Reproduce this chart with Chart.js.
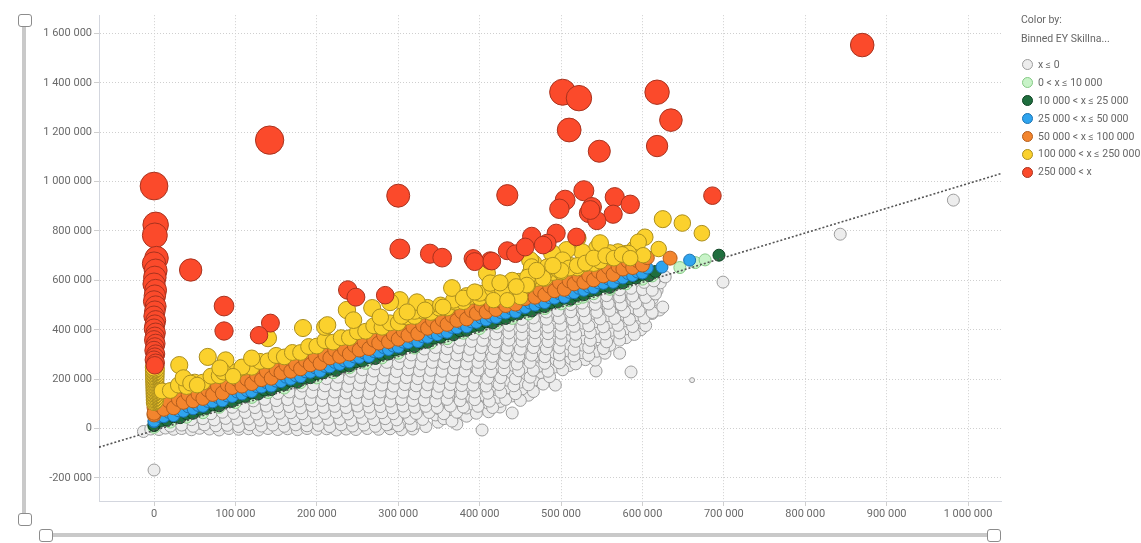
<!DOCTYPE html>
<html><head><meta charset="utf-8">
<script src="https://cdn.jsdelivr.net/npm/chart.js@4/dist/chart.umd.min.js"></script>
<style>
html,body{margin:0;padding:0;background:#fff;width:1141px;height:543px;overflow:hidden;font-family:Roboto,"Open Sans",sans-serif;}
#c{position:absolute;left:0;top:0;}
.trk{position:absolute;background:#c9c9c9;}
.hdl{position:absolute;width:12px;height:11px;border:1px solid #8c8c8c;border-radius:3px;background:#fff;}
#legend{position:absolute;left:1021px;top:11px;font-size:10.5px;color:#666;line-height:18px;}
#legend .t{height:19px;line-height:17px;white-space:nowrap}
#legend .it{height:17.9px;display:flex;align-items:center;white-space:nowrap;}
#legend .dot{width:9px;height:9px;border-radius:50%;border:1px solid #999;margin-left:1px;margin-right:5px;flex:none;}
</style></head><body>
<canvas id="c" width="1141" height="543"></canvas>
<div class="trk" style="left:22px;top:24px;width:4px;height:492px"></div>
<div class="hdl" style="left:18px;top:14px"></div>
<div class="hdl" style="left:18px;top:513px"></div>
<div class="trk" style="left:50px;top:533px;width:940px;height:4px"></div>
<div class="hdl" style="left:39px;top:529px"></div>
<div class="hdl" style="left:987px;top:529px"></div>
<div id="legend"></div>
<script>
// all values in thousands: [x, y]
const xTicks = [0,100,200,300,400,500,600,700,800,900,1000];
const yTicks = [-200,0,200,400,600,800,1000,1200,1400,1600];
const binLabels = ['x ≤ 0','0 < x ≤ 10 000','10 000 < x ≤ 25 000','25 000 < x ≤ 50 000','50 000 < x ≤ 100 000','100 000 < x ≤ 250 000','250 000 < x'];
const trendSlope = 1.0, trendIntercept = -8;

const redPts = [[870,1553],[142,1168],[0,982],[502,1362],[522,1338],[510,1209],[547,1123],[618,1362],[635,1249],[618,1144],[686,943],
[528,963],[505,925],[498,890],[566,937],[585,908],[564,868],[538,897],[534,872],[544,842],[494,791],
[434,945],[300,943],[302,727],[464,778],[434,720],[444,708],[392,688],[413,680],[339,708],[354,692],[483,751],[536,885],[519,776],[456,735],[478,743],[394,676],[415,678],[238,561],[248,532],[284,540],[45,642],[86,496],[86,395],[143,427],[129,378],
[2,825],[1,782],[3,690],[0,668],[2,640],[1,612],[0,585],[2,560],[1,538],[0,515],[2,495],[1,475],[0,455],[2,437],[1,420],[0,404],[2,388],[1,372],[0,358],[2,344],[1,330],[0,316],[2,302],[1,290],[0,278],[2,266],[1,256]];

const yellowPts = [[0,104],[1,108],[2,112],[0,116],[1,120],[2,124],[0,128],[1,132],[2,136],[0,140],[1,144],[2,148],[0,152],[1,156],[2,160],[0,164],[1,168],[2,172],[0,176],[1,180],[2,184],[0,188],[1,192],[2,196],[0,200],[1,204],[2,208],[0,212],[1,216],[2,220],[0,224],[1,228],[2,232],[0,236],[1,240],[2,244],[0,248],
[10,152],[20,154],[30,176],[40,170],[50,188],[60,188],[70,212],[80,214],[90,236],[100,230],[110,248],[120,248],[130,272],[140,274],[150,296],[160,290],[170,308],[180,308],[190,332],[200,334],[210,356],[220,350],[230,368],[240,368],[250,392],[260,394],[270,416],[280,410],[290,428],[300,428],[310,452],[320,454],[330,476],[340,470],[350,488],[360,488],[370,512],[380,514],[390,536],[400,530],[410,548],[420,548],[430,572],[440,574],[450,596],[460,590],[470,608],[480,608],[490,632],[500,634],[510,656],[520,650],[530,668],[540,668],[550,692],[560,694],[570,716],[580,710],[590,728],
[304,455],[320,475],[336,490],[352,500],[368,520],[384,538],[400,548],[416,565],[432,585],[448,596],[464,612],[480,630],[496,645],[512,660],[528,680],[544,690],[560,712],
[31,257],[36,205],[66,290],[88,277],[85,229],[108,249],[120,285],[140,366],[183,407],[210,411],[45,184],[53,176],[97,212],[81,245],[366,569],[380,528],[409,629],[413,589],[394,553],[428,561],[417,520],[302,520],[323,512],[290,512],[268,488],[237,480],[213,419],[333,480],[355,492],[311,472],[466,670],[462,629],[459,581],[450,532],[434,520],[245,439],[278,451],[625,848],[649,832],[673,791],[603,775],[595,755],[583,710],[601,702],[620,727],[520,771],[544,731],[548,751],[526,715],[507,723],[489,710],[462,682],[464,654],[483,654],[502,682],[459,613],[548,678],[458,581],[478,609],
[510,650],[520,660],[530,670],[540,690],[555,700],[565,690],[575,705],[585,690],[500,640],[490,660],[470,640],[440,600],[445,575],[425,590]];

const orangePts = [[0,55],[1,65],[2,75],[0,85],[1,95],
[0,62],[6,96],[12,78],[18,112],[24,84],[30,118],[36,106],[42,138],[48,112],[54,140],[60,122],[66,156],[72,138],[78,172],[84,144],[90,178],[96,166],[102,198],[108,172],[114,200],
[120,182],[126,216],[132,198],[138,232],[144,204],[150,238],[156,226],[162,258],[168,232],[174,260],[180,242],[186,276],[192,258],[198,292],[204,264],[210,298],[216,286],[222,318],[228,292],[234,320],
[240,302],[246,336],[252,318],[258,352],[264,324],[270,358],[276,346],[282,378],[288,352],[294,380],[300,362],[306,396],[312,378],[318,412],[324,384],[330,418],[336,406],[342,438],[348,412],[354,440],
[360,422],[366,456],[372,438],[378,472],[384,444],[390,478],[396,466],[402,498],[408,472],[414,500],[420,482],[426,516],[432,498],[438,532],[444,504],[450,538],[456,526],[462,558],[468,532],[474,560],
[480,542],[486,576],[492,558],[498,592],[504,564],[510,598],[516,586],[522,618],[528,592],[534,620],[540,602],[546,636],[552,618],[558,652],[564,624],[570,658],[576,646],[582,678],[588,652],[594,680],[600,662],[606,692],[634,690]];

const bluePts = [[0,28],[1,36],[2,44],
[0,30],[6,50],[12,48],[18,66],[24,52],[30,72],[36,70],[42,88],[48,80],[54,94],[60,90],[66,110],[72,108],[78,126],[84,112],[90,132],[96,130],[102,148],[108,140],[114,154],
[120,150],[126,170],[132,168],[138,186],[144,172],[150,192],[156,190],[162,208],[168,200],[174,214],[180,210],[186,230],[192,228],[198,246],[204,232],[210,252],[216,250],[222,268],[228,260],[234,274],
[240,270],[246,290],[252,288],[258,306],[264,292],[270,312],[276,310],[282,328],[288,320],[294,334],[300,330],[306,350],[312,348],[318,366],[324,352],[330,372],[336,370],[342,388],[348,380],[354,394],
[360,390],[366,410],[372,408],[378,426],[384,412],[390,432],[396,430],[402,448],[408,440],[414,454],[420,450],[426,470],[432,468],[438,486],[444,472],[450,492],[456,490],[462,508],[468,500],[474,514],
[480,510],[486,530],[492,528],[498,546],[504,532],[510,552],[516,550],[522,568],[528,560],[534,574],[540,570],[546,590],[552,588],[558,606],[564,592],[570,612],[576,610],[582,628],[588,620],[594,634],[600,630],[606,650],[624,654],[658,682]];

const darkGreenPts = [[0,12],[1,20],
[0,14],[8,30],[16,34],[24,48],[32,44],[40,60],[48,62],[56,78],[64,82],[72,96],[80,92],[88,108],[96,110],[104,126],[112,130],[120,144],[128,140],[136,156],[144,158],[152,174],[160,178],[168,192],[176,188],[184,204],[192,206],[200,222],[208,226],[216,240],[224,236],[232,252],[240,254],[248,270],[256,274],[264,288],[272,284],[280,300],[288,302],[296,318],[304,322],[312,336],[320,332],[328,348],[336,350],[344,366],[352,370],[360,384],[368,380],[376,396],[384,398],[392,414],[400,418],[408,432],[416,428],[424,444],[432,446],[440,462],[448,466],[456,480],[464,476],[472,492],[480,494],[488,510],[496,514],[504,528],[512,524],[520,540],[528,542],[536,558],[544,562],[552,576],[560,572],[568,588],[576,590],[584,606],[592,610],[591,621],[600,624],[608,620],[616,636],[694,702]];

const lightGreenPts = [[0,5],[20,26],[40,46],[60,64],[80,86],[100,105],[120,126],[140,146],[160,164],[180,186],[200,205],[220,226],[240,246],[260,264],[280,286],[300,305],[320,326],[340,346],[360,364],[380,386],[400,405],[420,426],[440,446],[460,464],[480,486],[500,505],[510,518],[520,526],[527,532],[540,546],[560,564],[580,586],[600,605],[612,618],[646,652],[665,672],[677,683]];

const whitePts = [[0,-168],[699,593],[843,787],[982,925],
[-13,-12],[-4,-2],[6,-4],[14,2],[24,-3],[34,0],[46,-5],[56,1],[68,-2],[80,-6],[92,0],[104,-3],[116,-1],[128,-6],[140,0],[152,-4],[164,-1],[176,-5],[188,0],[200,-3],[212,-1],[224,-6],[236,-2],[248,-4],[262,0],[276,-3],[290,-1],[304,-5],[318,-2],[403,-6],
[32,22],[44,28],[58,20],[70,26],[84,24],[96,30],[110,21],[122,27],[136,23],[150,29],[162,20],[176,26],[190,22],[204,28],[218,24],[232,30],[246,21],[260,27],[274,23],[290,19],[306,26],[322,21],[349,26],[372,18],
[58,48],[72,54],[86,46],[100,52],[114,49],[128,55],[142,47],[156,53],[170,50],[184,56],[198,46],[212,52],[226,48],[240,55],[254,47],[268,53],[282,50],[296,45],[312,52],[328,48],[346,55],[384,50],
[82,72],[96,78],[110,74],[124,80],[138,71],[152,77],[166,73],[180,79],[194,75],[208,81],[222,72],[236,78],[250,74],[264,80],[278,71],[292,77],[306,73],[320,79],[336,72],[350,80],[364,74],[384,83],[425,87],[440,63],[411,68],
[108,98],[122,104],[136,100],[150,106],[164,97],[178,103],[192,99],[206,105],[220,101],[234,107],[248,98],[262,104],[276,100],[290,106],[304,97],[318,103],[332,99],[348,105],[362,100],[376,107],[392,98],[410,104],[425,110],
[138,128],[152,134],[166,126],[180,132],[194,129],[208,135],[222,127],[236,133],[250,130],[264,136],[278,126],[292,132],[306,128],[320,135],[334,127],[348,133],[362,129],[376,136],[390,128],[406,134],[422,126],[440,132],[460,135],
[166,158],[180,164],[194,156],[208,162],[222,159],[236,165],[250,157],[264,163],[278,160],[292,166],[306,156],[320,162],[334,158],[348,165],[362,157],[376,163],[390,159],[404,166],[418,158],[434,164],[452,160],[493,176],
[196,188],[210,194],[224,186],[238,192],[252,189],[266,195],[280,187],[294,193],[308,190],[322,196],[336,186],[350,192],[364,188],[378,195],[392,187],[406,193],[420,189],[434,196],[450,188],[466,194],
[226,218],[240,224],[254,216],[268,222],[282,219],[296,225],[310,217],[324,223],[338,220],[352,226],[366,216],[380,222],[394,218],[408,225],[424,217],[440,223],[458,219],[476,226],[543,233],[586,229],
[256,248],[270,254],[284,246],[298,252],[312,249],[326,255],[340,247],[354,253],[368,250],[382,256],[396,246],[410,252],[426,248],[442,255],[458,247],[474,253],[492,249],[510,255],
[286,278],[300,284],[314,276],[328,282],[342,279],[356,285],[370,277],[384,283],[398,280],[412,286],[428,276],[444,282],[460,278],[476,285],[494,277],[512,283],[530,279],[466,290],[542,277],
[316,308],[330,314],[344,306],[358,312],[372,309],[386,315],[400,307],[414,313],[428,310],[444,316],[460,306],[476,312],[492,308],[508,315],[526,307],[544,313],[554,305],[572,305],
[346,338],[360,344],[374,336],[388,342],[402,339],[416,345],[430,337],[446,343],[462,340],[478,346],[494,336],[510,342],[526,338],[536,338],[560,337],
[376,368],[390,374],[404,366],[418,372],[432,369],[448,375],[464,367],[480,373],[496,370],[512,376],[528,366],[546,372],[566,378],[580,368],
[406,398],[420,404],[434,396],[448,402],[462,399],[478,405],[494,397],[510,403],[526,400],[544,406],[562,398],[580,404],[598,400],
[436,428],[450,434],[464,426],[478,432],[494,429],[510,435],[526,427],[542,433],[560,430],[578,436],[596,428],
[466,458],[480,464],[494,456],[510,462],[526,459],[542,465],[558,457],[576,463],[594,460],[612,466],
[496,488],[510,494],[526,486],[542,492],[558,489],[574,495],[590,487],[604,492],[621,480],[625,492],
[526,518],[540,524],[556,516],[572,522],[588,519],[600,540],[612,525],
[556,548],[570,554],[586,546],[600,552],[612,573],[618,560],
[586,578],[598,584],[610,576],[618,601],[622,590],
[616,608],[628,614],
[20,10],[34,14],[48,9],[62,15],[76,11],[90,13],[104,8],[118,15],[132,10],[146,14],[160,9],[174,15],[188,11],[202,13],[216,8],[230,15],[244,10],[258,14],[272,9],[286,15],[300,11],[316,12],[334,8],
[46,36],[60,40],[74,35],[88,41],[102,37],[116,39],[130,34],[144,41],[158,36],[172,40],[186,35],[200,41],[214,37],[228,39],[242,34],[256,41],[270,36],[284,40],[298,35],[314,41],[330,37],[356,40],[366,30],
[70,60],[84,66],[98,61],[112,65],[126,59],[140,66],[154,62],[168,64],[182,60],[196,66],[210,61],[224,65],[238,59],[252,66],[266,62],[280,64],[294,60],[308,66],[322,61],[338,65],[356,60],[372,66],[396,62],
[96,86],[110,90],[124,85],[138,91],[152,87],[166,89],[180,84],[194,91],[208,86],[222,90],[236,85],[250,91],[264,87],[278,89],[292,84],[306,91],[320,86],[334,90],[348,85],[364,91],[380,87],[398,90],[416,85],
[122,112],[136,118],[150,113],[164,117],[178,111],[192,118],[206,114],[220,116],[234,112],[248,118],[262,113],[276,117],[290,111],[304,118],[318,114],[332,116],[346,112],[360,118],[376,113],[394,117],[412,111],[432,118],[450,114],
[152,142],[166,148],[180,143],[194,147],[208,141],[222,148],[236,144],[250,146],[264,142],[278,148],[292,143],[306,147],[320,141],[334,148],[348,144],[362,146],[378,142],[394,148],[410,143],[426,147],[444,141],[466,150],
[182,172],[196,178],[210,173],[224,177],[238,171],[252,178],[266,174],[280,176],[294,172],[308,178],[322,173],[336,177],[350,171],[364,178],[378,174],[392,176],[408,172],[424,178],[442,173],[460,177],[478,180],
[212,202],[226,208],[240,203],[254,207],[268,201],[282,208],[296,204],[310,206],[324,202],[338,208],[352,203],[366,207],[380,201],[394,208],[410,204],[426,206],[444,202],[462,208],[486,210],
[242,232],[256,238],[270,233],[284,237],[298,231],[312,238],[326,234],[340,236],[354,232],[368,238],[382,233],[398,237],[414,231],[430,238],[448,234],[466,236],[484,232],[502,238],
[272,262],[286,268],[300,263],[314,267],[328,261],[342,268],[356,264],[370,266],[384,262],[398,268],[414,263],[430,267],[446,261],[462,268],[480,264],[498,266],[518,262],
[302,292],[316,298],[330,293],[344,297],[358,291],[372,298],[386,294],[400,296],[416,292],[432,298],[448,293],[464,297],[480,291],[498,298],[516,294],[534,296],
[332,322],[346,328],[360,323],[374,327],[388,321],[402,328],[418,324],[434,326],[450,322],[466,328],[482,323],[498,327],[516,321],[534,328],[552,324],
[362,352],[376,358],[390,353],[404,357],[420,351],[436,358],[452,354],[468,356],[484,352],[500,358],[518,353],[536,357],[556,351],[572,358],
[392,382],[406,388],[420,383],[436,387],[452,381],[468,388],[484,384],[500,386],[518,382],[536,388],[554,383],[572,387],[590,381],
[422,412],[436,418],[452,413],[468,417],[484,411],[500,418],[516,414],[534,416],[552,412],[570,418],[588,413],[604,417],
[452,442],[466,448],[482,443],[498,447],[514,441],[530,448],[548,444],[566,446],[584,442],[602,448],
[482,472],[496,478],[512,473],[528,477],[544,471],[560,478],[578,474],[596,476],[612,470],
[512,502],[526,508],[542,503],[558,507],[574,501],[592,508],[608,504],
[542,532],[556,538],[572,533],[588,537],[604,531],[616,545],
[572,562],[586,568],[600,563],[612,560],
[602,592],[614,598]];

const whiteSmallPts = [[661,196]];

const K = 1000;
const toXY = arr => arr.map(p => ({x: p[0]*K, y: p[1]*K}));
const fmt = v => Math.round(v).toString().replace(/\B(?=(\d{3})+(?!\d))/g, ' ');
const diffRadius = ctx => { const p = ctx.raw; if (!p) return 8; const d = (p.y - p.x)/K; return Math.min(14.5, 7 + d*0.007); };

const colors = {
  white:['#ededed','#9c9c9c'], lgreen:['#c8f3c8','#84c984'], dgreen:['#1f6e3e','#0f4424'],
  blue:['#2fa4ee','#1a72b2'], orange:['#f3852e','#b35d1c'], yellow:['#fbd12d','#ab8e1e'], red:['#fb4a2b','#a8321e']
};
const legendKeys = ['white','lgreen','dgreen','blue','orange','yellow','red'];

function ds(label, pts, key, order, radius){
  return {type:'bubble', label, data: toXY(pts), backgroundColor: colors[key][0], borderColor: colors[key][1], borderWidth: 1, radius, hoverRadius: radius, order};
}
const xMin = -67.6, xMax = 1040.5;
const trendData = [{x:xMin*K, y:(trendSlope*xMin+trendIntercept)*K},{x:xMax*K, y:(trendSlope*xMax+trendIntercept)*K}];

new Chart(document.getElementById('c'), {
  type:'bubble',
  data:{datasets:[
    {type:'scatter', label:'trend', data: trendData, showLine:true, borderColor:'#555', borderWidth:1.6, borderDash:[2,2], pointRadius:0, order:0},
    ds(binLabels[6], redPts, 'red', 1, diffRadius),
    ds(binLabels[5], yellowPts, 'yellow', 2, diffRadius),
    ds(binLabels[4], orangePts, 'orange', 3, 7),
    ds(binLabels[3], bluePts, 'blue', 4, 6),
    ds(binLabels[2], darkGreenPts, 'dgreen', 5, 6),
    ds(binLabels[1], lightGreenPts, 'lgreen', 6, 6),
    ds(binLabels[0], whitePts, 'white', 7, 6),
    ds(binLabels[0], whiteSmallPts, 'white', 7, 2.5)
  ]},
  options:{
    responsive:false, animation:false, devicePixelRatio:1,
    layout:{padding:{left:0,right:140,top:15,bottom:0}},
    plugins:{legend:{display:false}, tooltip:{enabled:false}},
    scales:{
      x:{type:'linear', min:xMin*K, max:xMax*K,
        afterFit: s => { s.height = 42; },
        afterBuildTicks: s => { s.ticks = xTicks.map(v => ({value: v*K})); },
        ticks:{callback: fmt, color:'#6a6a6a', font:{family:'Roboto', size:11}, padding:2, maxRotation:0, autoSkip:false},
        grid:{color:'#cfcfcf', tickLength:5, tickColor:'#cfcfcf'},
        border:{color:'#d3d6de', width:1, dash:[1,2]}
      },
      y:{type:'linear', min:-293.5*K, max:1674*K,
        afterFit: s => { s.width = 99; },
        afterBuildTicks: s => { s.ticks = yTicks.map(v => ({value: v*K})); },
        ticks:{callback: fmt, color:'#6a6a6a', font:{family:'Roboto', size:11}, padding:2, autoSkip:false},
        grid:{color:'#cfcfcf', tickLength:5, tickColor:'#cfcfcf'},
        border:{color:'#d3d6de', width:1, dash:[1,2]}
      }
    }
  }
});

const lg = document.getElementById('legend');
let html = '<div class="t">Color by:</div><div class="t" style="margin-bottom:7px">Binned EY Skillna...</div>';
binLabels.forEach((l,i) => {
  const c = colors[legendKeys[i]];
  html += `<div class="it"><span class="dot" style="background:${c[0]};border-color:${c[1]}"></span>${l}</div>`;
});
lg.innerHTML = html;
</script>
</body></html>
